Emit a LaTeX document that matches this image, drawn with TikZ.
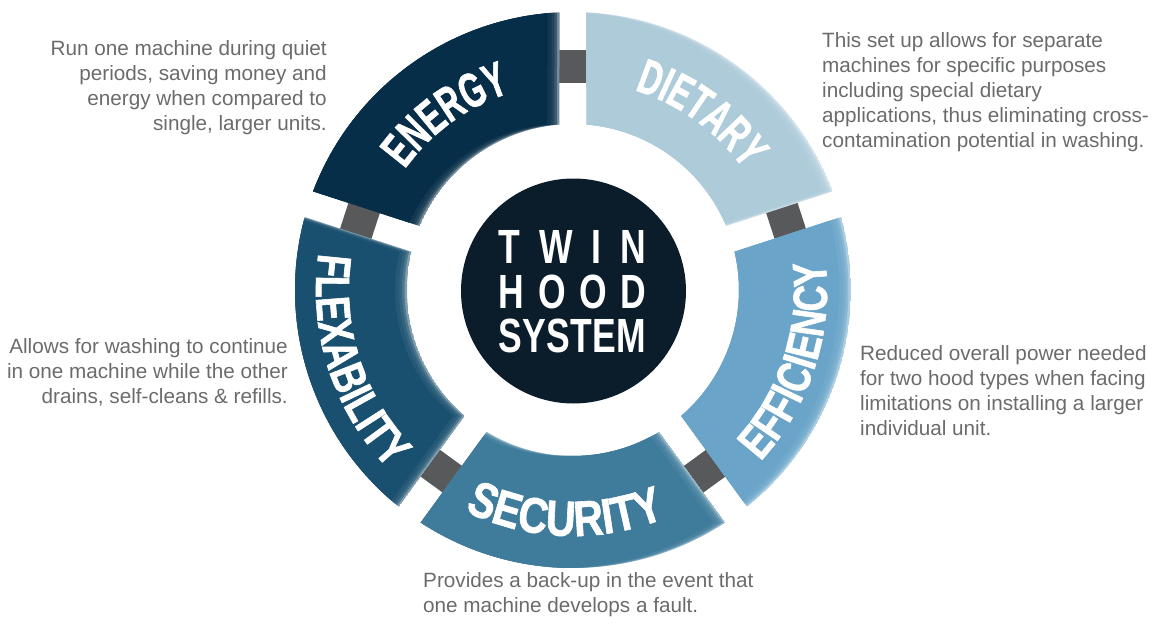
\documentclass[tikz,border=0pt]{standalone}
\usepackage{fontspec}
\setmainfont{Liberation Sans}
\newfontfamily\lblfontA[FakeStretch=0.64,FakeBold=1.2]{Liberation Sans Bold}
\newfontfamily\lblfontB[FakeStretch=0.76,FakeBold=1.2]{Liberation Sans Bold}
\newfontfamily\lblfontC[FakeStretch=0.82,FakeBold=1.2]{Liberation Sans Bold}
\newfontfamily\ctrfont[FakeStretch=0.74]{Liberation Sans Bold}
\usetikzlibrary{decorations.text}
\definecolor{cEnergy}{HTML}{072E48}
\definecolor{cDiet}{HTML}{AECBDA}
\definecolor{cEff}{HTML}{6AA5C9}
\definecolor{cSec}{HTML}{3F7C9C}
\definecolor{cFlex}{HTML}{1A506F}
\definecolor{cCenter}{HTML}{0B1D2A}
\definecolor{cConn}{HTML}{58595B}
\definecolor{cTxt}{HTML}{6A6B6D}
\newcommand\segpath[2]{({#1+2.78}:278) arc[start angle={#1+2.78}, end angle={#2-2.78}, radius=278] -- ({#2-4.67}:166) arc[start angle={#2-4.67}, end angle={#1+4.67}, radius=166] -- cycle}
\newcommand\ringseg[3]{%
  \begin{scope}
    \clip \segpath{#1}{#2};
    \fill[#3!55!white] \segpath{#1}{#2};
    \fill[#3, xshift=-12pt] \segpath{#1}{#2};
    \foreach \d in {8,5,2.5} {\fill[#3, opacity=0.5, xshift=-\d pt] \segpath{#1}{#2};}
  \end{scope}}
\newcommand\lblstyleA{\lblfontA\fontsize{49}{49}\selectfont\color{white}}
\newcommand\lblstyleB{\lblfontB\fontsize{48}{48}\selectfont\color{white}}
\newcommand\lblstyleC{\lblfontC\fontsize{50}{50}\selectfont\color{white}}
\newcommand\ctrstyle{\ctrfont\fontsize{48}{48}\selectfont}
\tikzset{
  conn/.style={fill=cConn, minimum width=33pt, minimum height=30pt, inner sep=0pt, draw=none},
  desc/.style={font=\fontsize{20.7}{25}\selectfont, text=cTxt, inner sep=0pt},
  ctr/.style={text=white, inner sep=0pt, anchor=base},
  lblA/.style={decorate, decoration={text along path, text align=center, text={|\lblstyleA|#1}}},
  lblB/.style={decorate, decoration={text along path, text align=center, text={|\lblstyleB|#1}}},
  lblC/.style={decorate, decoration={text along path, text align=center, text={|\lblstyleC|#1}}}
}
\begin{document}
\begin{tikzpicture}[x=1pt,y=1pt]
\useasboundingbox (-573,-340) rectangle (590,290);
% connectors
\foreach \a/\n in {18/c1,90/c2,162/c3,234/c4,306/c5}
  \node[conn, rotate=\a] (\n) at (\a:224) {};
% segments
\ringseg{18}{90}{cDiet}
\ringseg{90}{162}{cEnergy}
\ringseg{162}{234}{cFlex}
\ringseg{234}{306}{cSec}
\ringseg{306}{378}{cEff}
% labels
\path[lblA=ENERGY] (162:207) arc[start angle=162, end angle=90, radius=207];
\path[lblA=DIETARY] (90:209) arc[start angle=90, end angle=18, radius=209];
\path[lblB=FLEXABILITY] (162:257) arc[start angle=162, end angle=234, radius=257];
\path[lblC=SECURITY] (232:246) arc[start angle=232, end angle=304, radius=246];
\path[lblB=EFFICIENCY] (306:254) arc[start angle=306, end angle=378, radius=254];
% center
\fill[cCenter] (0.5,-1) circle (112.5);
\node[ctr] (twin) at (-0.5,27) {\ctrstyle\makebox[147pt][s]{T\hfill W\hfill I\hfill N}};
\node[ctr] (hood) at (-0.5,-18) {\ctrstyle\makebox[147pt][s]{H\hfill O\hfill O\hfill D}};
\node[ctr] (sys) at (-0.5,-62) {\ctrstyle\makebox[147pt][s]{S\hfill Y\hfill S\hfill T\hfill E\hfill M}};
% descriptions (base anchor = baseline of last line)
\node[desc, align=right, anchor=base east] (dEnergy) at (-246,160) {Run one machine during quiet\\periods, saving money and\\energy when compared to\\single, larger units.};
\node[desc, align=left, anchor=base west] (dDiet) at (249,143) {This set up allows for separate\\machines for specific purposes\\including special dietary\\applications, thus eliminating cross-\\contamination potential in washing.};
\node[desc, align=right, anchor=base east] (dFlex) at (-285,-113) {Allows for washing to continue\\in one machine while the other\\drains, self-cleans \& refills.};
\node[desc, align=left, anchor=base west] (dEff) at (287,-145) {Reduced overall power needed\\for two hood types when facing\\limitations on installing a larger\\individual unit.};
\node[desc, align=left, anchor=base west] (dSec) at (-150,-322) {Provides a back-up in the event that\\one machine develops a fault.};
\end{tikzpicture}
\end{document}
